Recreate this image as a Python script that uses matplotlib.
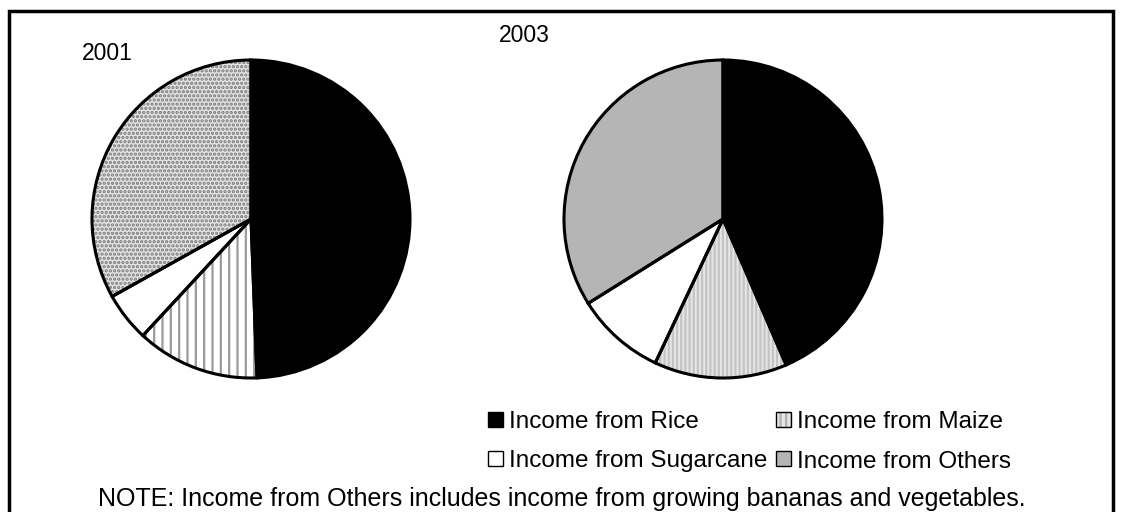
import matplotlib
matplotlib.use("Agg")
import matplotlib.pyplot as plt
from matplotlib.patches import Patch, Rectangle
from matplotlib.legend_handler import HandlerTuple

plt.rcParams['font.family'] = ['Liberation Sans', 'DejaVu Sans']
plt.rcParams['hatch.linewidth'] = 1.6

# Data (shares of income, %)
categories = ["Income from Rice", "Income from Maize", "Income from Sugarcane", "Income from Others"]
share_2001 = [49.4, 12.5, 5.0, 33.1]
share_2003 = [43.5, 13.5, 9.1, 33.9]
years = ["2001", "2003"]
note = "NOTE: Income from Others includes income from growing bananas and vegetables."

W, H = 1123, 512
fig = plt.figure(figsize=(W / 100, H / 100), dpi=100)
ax = fig.add_axes([0, 0, 1, 1])

# fill styles per year: (facecolor, hatch, hatch color)
styles_2001 = [("black", None, "black"),
               ("white", "||", "#9a9a9a"),
               ("white", None, "white"),
               ("#e2e2e2", "....", "#7a7a7a")]
styles_2003 = [("black", None, "black"),
               ("#e6e6e6", "||||", "#c4c4c4"),
               ("white", None, "white"),
               ("#b5b5b5", None, "#b5b5b5")]


def draw_pie(values, styles, center, radius):
    wedges, _ = ax.pie(values, startangle=90, counterclock=False,
                       center=center, radius=radius, frame=True)
    for w, (fc, hatch, hc) in zip(wedges, styles):
        w.set_facecolor(fc)
        w.set_edgecolor(hc)
        w.set_linewidth(0)
        if hatch:
            w.set_hatch(hatch)
    # outlines on top
    ax.pie(values, startangle=90, counterclock=False, center=center,
           radius=radius, frame=True,
           wedgeprops=dict(facecolor='none', edgecolor='black', linewidth=2.2))


draw_pie(share_2001, styles_2001, (251, H - 219), 159)
draw_pie(share_2003, styles_2003, (723, H - 219), 159)
ax.set_xlim(0, W)
ax.set_ylim(0, H)
ax.set_aspect('equal')
ax.axis('off')

ax.text(82, H - 54, years[0], fontsize=16.5, ha='left', va='center')
ax.text(499, H - 35, years[1], fontsize=16.5, ha='left', va='center')
ax.text(W / 2, H - 499, note, fontsize=18, ha='center', va='center')

# outer frame
ax.add_patch(Rectangle((9, -20), 1104, H - 11 + 20, facecolor='none',
                       edgecolor='black', linewidth=2.5, clip_on=False))

# legend markers: filled/hatched square with a thin black outline on top
legend_styles = [styles_2003[0], styles_2003[2],
                 ("#e6e6e6", "|||", "#b0b0b0"), styles_2003[3]]
handles = []
for fc, hatch, hc in legend_styles:
    fill = Patch(facecolor=fc, edgecolor=hc, hatch=hatch, linewidth=0)
    outline = Patch(facecolor='none', edgecolor='black', linewidth=1.0)
    handles.append((fill, outline))
labels = [categories[0], categories[2], categories[1], categories[3]]
fig.legend(handles, labels, ncol=2, loc='upper left',
           bbox_to_anchor=(488 / W, 1 - 411 / H), frameon=False,
           handler_map={tuple: HandlerTuple(ndivide=1, pad=0)},
           fontsize=17.5, handlelength=0.62, handleheight=0.58,
           handletextpad=0.25, columnspacing=0.33, labelspacing=0.72,
           borderpad=0, borderaxespad=0)

fig.savefig("out.png", dpi=100)
